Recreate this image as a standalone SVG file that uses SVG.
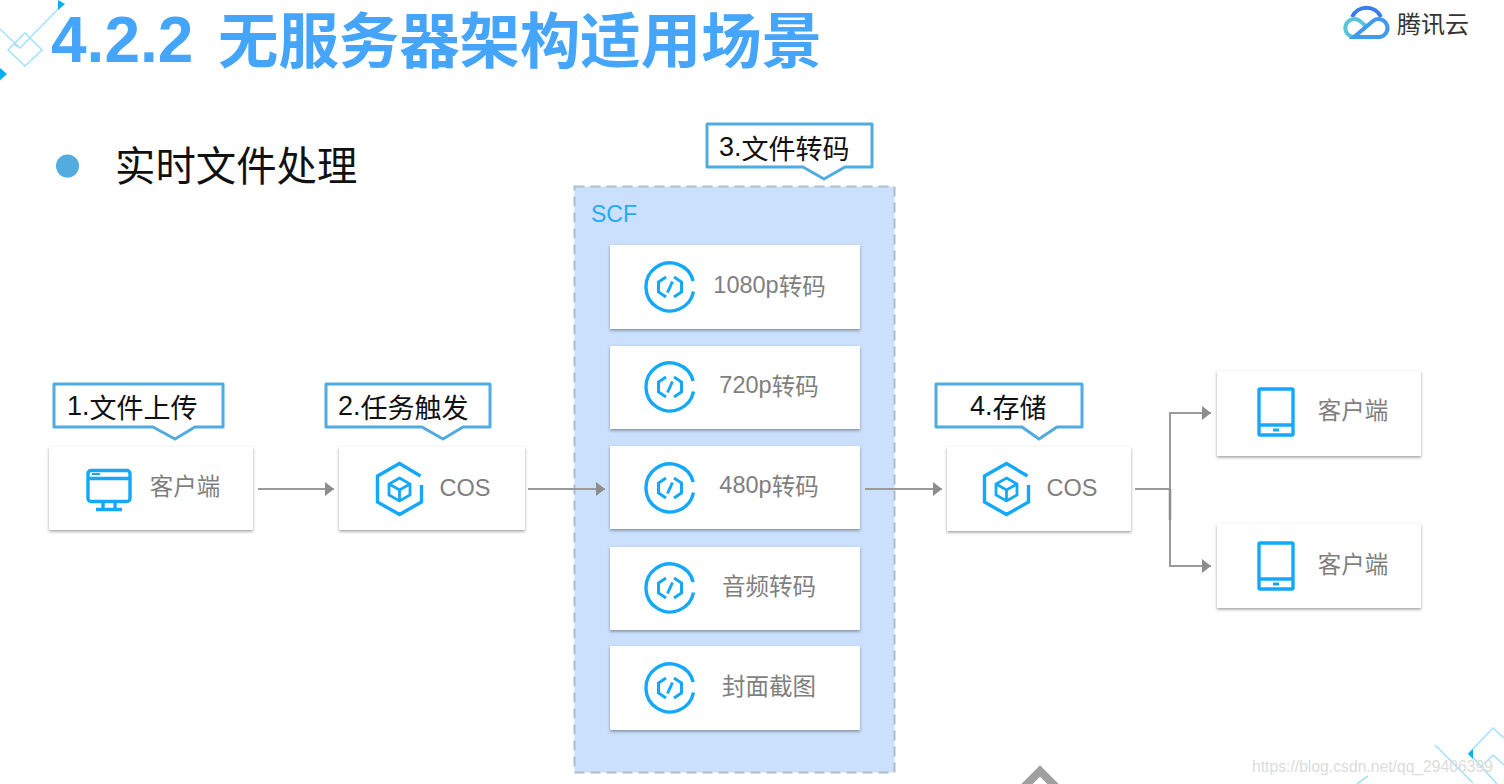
<svg xmlns="http://www.w3.org/2000/svg" width="1504" height="784" viewBox="0 0 1504 784">
<style>
text{font-family:"Liberation Sans","Noto Sans CJK SC",sans-serif}
.cjk{font-family:"Noto Sans CJK SC","Liberation Sans",sans-serif}
.title{font-weight:700;fill:#45a5fb}
.box{fill:#fff;filter:url(#sh)}
.lbl{font-size:23.500px;fill:#7f7f7f;text-anchor:middle;dominant-baseline:central}
.call{fill:#fff;stroke:#4fabe0;stroke-width:3;stroke-linejoin:round}
.ct{font-size:27px;fill:#111;dominant-baseline:central}
.ic{fill:none;stroke:#14a8fb;stroke-width:3.4}
.con{fill:none;stroke:#9a9a9a;stroke-width:2}
.deco{fill:none;stroke:#a6e1fb;stroke-width:1.6}
.decof{fill:#08aef0}
</style>
<defs>
<filter id="sh" x="-5%" y="-8%" width="110%" height="118%"><feDropShadow dx="0" dy="1.5" stdDeviation="1.6" flood-color="#000" flood-opacity=".38"/></filter>
<marker id="arr" markerUnits="userSpaceOnUse" markerWidth="10" markerHeight="14" refX="9" refY="7" orient="auto"><path d="M0 0L9 7L0 14Z" fill="#8d8d8d"/></marker>
<g id="scf"><path class="ic" d="M23.200 -6A24 24 0 1 0 23.500 4.500"/><path d="M-4 -10L-11.500 -5V5L-4 10M4 -10L11.500 -5V5L4 10M2.500 -5.500L-2.500 5.500" fill="none" stroke="#14a8fb" stroke-width="3"/></g>
<g id="cos"><path class="ic" d="M21 -13L0 -25.500L-22 -13V13L0 25.500L22 13V-4"/><path d="M0 -11L10.500 -5V6L0 12L-10.500 6V-5ZM-10.500 -5L0 1L10.500 -5M0 1V12" fill="none" stroke="#14a8fb" stroke-width="2.800"/></g>
<g id="tablet"><rect class="ic" x="-17" y="-23" width="34" height="46" rx="1"/><path class="ic" d="M-17 13H17"/><rect x="-3" y="16.500" width="6" height="3" fill="#14a8fb"/></g>
</defs>
<rect width="1504" height="784" fill="#fff"/>

<g id="decoration-top">
<path class="deco" d="M62 5L20 48L0 29M8 50L25 33L42 50L25 66ZM14 44L20 48M0 80L4 76"/>
<path class="decof" d="M58 0L65 4L58 10Z M0 68L7 74L0 80Z"/>
</g>
<g id="decoration-bottom">
<path class="deco" d="M1435 745L1473 783M1504 738L1493 728L1469 753L1497 784M1484 764L1493 755L1504 765M1368 776L1357 784"/>
<path class="decof" d="M1468 754L1473 749V759Z"/>
</g>
<path id="chevron" d="M1024 787L1040 771L1056 787" fill="none" stroke="#a0a0a0" stroke-width="8"/>

<g id="title">
<text class="title" x="51" y="62" font-size="64">4.2.2</text>
<text class="title cjk" x="218" y="63" font-size="60.400">无服务器架构适用场景</text>
</g>
<g id="logo">
<path d="M1352 17A16 16 0 0 1 1381 17" fill="none" stroke="#3b7de8" stroke-width="4"/>
<path d="M1362 37H1354A9 9 0 1 1 1360 21L1367 27" fill="none" stroke="#5cc3dc" stroke-width="4"/>
<path d="M1354 37H1380A9 9 0 1 0 1373 21Z" fill="none" stroke="#3e9bf2" stroke-width="4"/>
<text class="cjk" x="1397" y="33" font-size="24" fill="#333">腾讯云</text>
</g>
<circle id="bullet" cx="67.500" cy="166" r="11.500" fill="#53acdf"/>
<text class="cjk" x="115" y="181" font-size="40.400" fill="#111">实时文件处理</text>

<g id="scf-group"><rect x="574.500" y="186.500" width="320" height="586" fill="#cbe0fd" stroke="#aebccc" stroke-width="2" stroke-dasharray="10 6"/><text x="591" y="222" font-size="23" fill="#27a9fb">SCF</text></g>

<g id="connectors">
<path class="con" d="M258 489H334" marker-end="url(#arr)"/>
<path class="con" d="M528 489H605" marker-end="url(#arr)"/>
<path class="con" d="M865 489H942" marker-end="url(#arr)"/>
<path class="con" d="M1135 489H1170V413H1211" marker-end="url(#arr)"/>
<path class="con" d="M1170 489V566H1211" marker-end="url(#arr)"/>
<path d="M1170 489V520" stroke="#8d8d8d" stroke-width="2.500"/>
</g>

<g id="client-1"><rect class="box" x="49" y="447" width="204" height="83"/>
<g transform="translate(109 489)"><rect class="ic" x="-21" y="-18.500" width="42" height="31" rx="3"/><path class="ic" d="M-21 -10.500H21M-6 13V19M6 13V19M-13 20.500H13"/><path d="M-17 -15H-9" stroke="#14a8fb" stroke-width="2"/></g>
<text class="lbl cjk" x="185" y="485">客户端</text></g>

<g id="cos-1"><rect class="box" x="339" y="447" width="186" height="83"/><use href="#cos" x="399.500" y="489"/><text class="lbl" x="465" y="488">COS</text></g>

<g id="fn-1080"><rect class="box" x="610" y="245" width="250" height="84"/><use href="#scf" x="670" y="287"/><text class="lbl" x="769.500" y="285"><tspan>1080p</tspan><tspan class="cjk">转码</tspan></text></g>
<g id="fn-720"><rect class="box" x="610" y="346" width="250" height="83"/><use href="#scf" x="670" y="387"/><text class="lbl" x="769" y="384.500"><tspan>720p</tspan><tspan class="cjk">转码</tspan></text></g>
<g id="fn-480"><rect class="box" x="610" y="446" width="250" height="83"/><use href="#scf" x="670" y="488"/><text class="lbl" x="769" y="485"><tspan>480p</tspan><tspan class="cjk">转码</tspan></text></g>
<g id="fn-audio"><rect class="box" x="610" y="547" width="250" height="83"/><use href="#scf" x="670" y="588"/><text class="lbl cjk" x="769" y="585">音频转码</text></g>
<g id="fn-cover"><rect class="box" x="610" y="646" width="250" height="84"/><use href="#scf" x="670" y="688"/><text class="lbl cjk" x="769" y="685">封面截图</text></g>

<g id="cos-2"><rect class="box" x="947" y="447" width="184" height="84"/><use href="#cos" x="1006.500" y="489"/><text class="lbl" x="1072" y="488">COS</text></g>
<g id="client-2"><rect class="box" x="1217" y="371" width="204" height="85"/><use href="#tablet" x="1276" y="412"/><text class="lbl cjk" x="1353" y="409">客户端</text></g>
<g id="client-3"><rect class="box" x="1217" y="524" width="204" height="84"/><use href="#tablet" x="1276" y="566"/><text class="lbl cjk" x="1353" y="563">客户端</text></g>

<g id="callout-1"><path class="call" d="M54 384H223V427H195L175 439L153 427H54Z"/><text class="ct" x="67" y="406"><tspan>1.</tspan><tspan class="cjk">文件上传</tspan></text></g>
<g id="callout-2"><path class="call" d="M326 384H490V427H463L443 439L422 427H326Z"/><text class="ct" x="338" y="406"><tspan>2.</tspan><tspan class="cjk">任务触发</tspan></text></g>
<g id="callout-3"><path class="call" d="M707 124H872V167H845L824 179L803 167H707Z"/><text class="ct" x="719" y="146.500"><tspan>3.</tspan><tspan class="cjk">文件转码</tspan></text></g>
<g id="callout-4"><path class="call" d="M936 384H1082V427H1057L1039 439L1022 427H936Z"/><text class="ct" x="970" y="405.500"><tspan>4.</tspan><tspan class="cjk">存储</tspan></text></g>

<text id="watermark" x="1252" y="772" font-size="16.500" fill="#dcdcdc" textLength="241" lengthAdjust="spacingAndGlyphs">https://blog.csdn.net/qq_29406399</text>
</svg>
